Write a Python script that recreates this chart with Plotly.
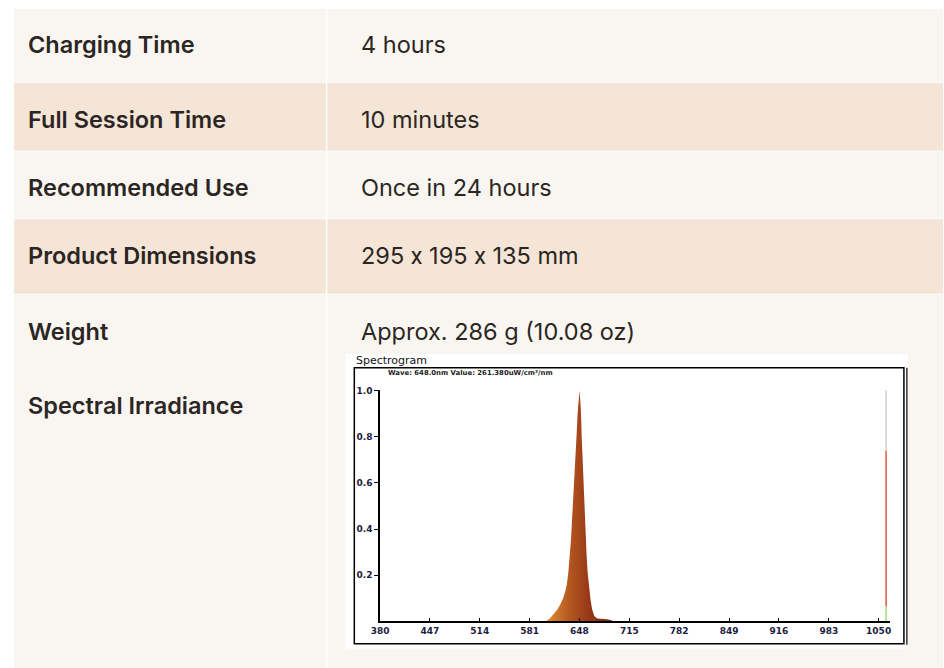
import plotly.graph_objects as go

W, H = 944, 668

# ---------------- data ----------------
spec_labels = ["Charging Time", "Full Session Time", "Recommended Use",
               "Product Dimensions", "Weight", "Spectral Irradiance"]
spec_values = ["4 hours", "10 minutes", "Once in 24 hours",
               "295 <span style='font-family:Roboto'>x</span> 195 <span style='font-family:Roboto'>x</span> 135 mm",
               "Approx. 286 g (10.08 oz)", ""]

chart_title = "Spectrogram"
chart_subtitle = "Wave: 648.0nm Value: 261.380uW/cm²/nm"

wavelength_nm = [603, 608, 613, 618, 622, 626, 629, 631, 633, 635, 636.5, 638,
                 639.5, 641, 642.5, 644, 645.5, 647, 648, 649, 650, 651, 652,
                 653, 654.5, 656, 657.5, 659, 661, 663, 665, 668, 672, 676,
                 680, 685, 690, 694]
relative_irradiance = [0.0, 0.012, 0.03, 0.05, 0.072, 0.10, 0.13, 0.16, 0.21,
                       0.28, 0.35, 0.44, 0.52, 0.60, 0.70, 0.80, 0.90, 0.97,
                       1.0, 0.96, 0.91, 0.80, 0.71, 0.63, 0.51, 0.39, 0.29,
                       0.21, 0.14, 0.09, 0.052, 0.022, 0.012, 0.010, 0.010,
                       0.009, 0.006, 0.0]

indicator_wavelength = 1060
indicator_levels = [0.0, 0.065, 0.74, 1.0]
indicator_colors = ["#9be070", "#e0583a", "#cfcfcf"]

x_tick_vals = [380, 447, 514, 581, 648, 715, 782, 849, 916, 983, 1050]
x_tick_text = [str(v) for v in x_tick_vals]
y_tick_vals = [0.2, 0.4, 0.6, 0.8, 1.0]
y_tick_text = ["0.2", "0.4", "0.6", "0.8", "1.0"]

# ---------------- layout constants (pixels) ----------------
row_edges = [5, 79, 148, 216, 292, 668]
row_fills = ["#f9f6f1", "#f5e5d7", "#f9f6f1", "#f5e5d7", "#f9f6f1"]
text_y = [41, 116, 185, 253, 329, 404]
col_split = 321
label_x = 18
value_x = 355


def px(x):
    return x / W


def py(y):
    return 1 - y / H


fig = go.Figure()

# spectral peak with horizontal gradient fill
fig.add_trace(go.Scatter(
    x=wavelength_nm, y=relative_irradiance, mode="lines",
    line=dict(width=0, color="rgba(0,0,0,0)"),
    fill="tozeroy",
    fillgradient=dict(type="horizontal", start=605, stop=672,
                      colorscale=[[0, "#d8892f"], [0.45, "#b0521f"],
                                  [0.75, "#9a3a18"], [1, "#8a2c12"]]),
    hoverinfo="skip", showlegend=False))

# coloured level indicator at the right
for i in range(len(indicator_colors)):
    fig.add_trace(go.Scatter(
        x=[indicator_wavelength, indicator_wavelength],
        y=[indicator_levels[i], indicator_levels[i + 1]],
        mode="lines", line=dict(width=1.5, color=indicator_colors[i]),
        hoverinfo="skip", showlegend=False))

shapes = []
# table row bands
for i, fc in enumerate(row_fills):
    shapes.append(dict(type="rect", xref="paper", yref="paper", layer="below",
                       x0=px(5), x1=px(W), y0=py(row_edges[i]), y1=py(row_edges[i + 1]),
                       fillcolor=fc, line=dict(width=0)))
for e in row_edges[1:-1]:
    shapes.append(dict(type="line", xref="paper", yref="paper", layer="below",
                       x0=px(5), x1=px(W), y0=py(e), y1=py(e),
                       line=dict(color="#fdfbf8", width=1)))
# column divider
shapes.append(dict(type="line", xref="paper", yref="paper", layer="below",
                   x0=px(col_split), x1=px(col_split), y0=py(5), y1=py(H),
                   line=dict(color="#ffffff", width=1.5)))
# chart image box and frame
shapes.append(dict(type="rect", xref="paper", yref="paper", layer="below",
                   x0=px(340), x1=px(908.5), y0=py(352), y1=py(648.5),
                   fillcolor="#ffffff", line=dict(width=0)))
shapes.append(dict(type="rect", xref="paper", yref="paper", layer="below",
                   x0=px(349), x1=px(904.5), y0=py(366), y1=py(643.5),
                   fillcolor="rgba(0,0,0,0)", line=dict(color="#000000", width=1.5)))
shapes.append(dict(type="line", xref="paper", yref="paper", layer="below",
                   x0=px(907.5), x1=px(907.5), y0=py(366), y1=py(644.5),
                   line=dict(color="#000000", width=1.2)))

annotations = []
for lab, val, ty in zip(spec_labels, spec_values, text_y):
    annotations.append(dict(xref="paper", yref="paper", x=px(label_x), y=py(ty),
                            text=lab, showarrow=False, xanchor="left", yanchor="middle",
                            xshift=-1,
                            font=dict(family="Inter", size=23.5, color="#2b2623", weight=600)))
    if val:
        annotations.append(dict(xref="paper", yref="paper", x=px(value_x), y=py(ty),
                                text=val, showarrow=False, xanchor="left", yanchor="middle",
                                xshift=-1,
                                font=dict(family="Inter", size=23.5, color="#2b2623")))

annotations.append(dict(xref="paper", yref="paper", x=px(349), y=py(358.5),
                        text=chart_title, showarrow=False, xanchor="left", yanchor="middle",
                        font=dict(family="DejaVu Sans", size=11, color="#111111")))
annotations.append(dict(xref="paper", yref="paper", x=px(381), y=py(371.5),
                        text=chart_subtitle, showarrow=False, xanchor="left", yanchor="middle",
                        font=dict(family="DejaVu Sans", size=6.9, color="#222222", weight="bold")))

tick_font = dict(family="DejaVu Sans", size=9, color="#1c2040", weight="bold")

fig.update_layout(
    width=W, height=H,
    margin=dict(l=0, r=0, t=0, b=0),
    paper_bgcolor="#ffffff",
    plot_bgcolor="rgba(0,0,0,0)",
    showlegend=False,
    shapes=shapes,
    annotations=annotations,
    xaxis=dict(domain=[px(375), px(890)], range=[380, 1064.7],
               tickmode="array", tickvals=x_tick_vals, ticktext=x_tick_text,
               ticks="inside", ticklen=4, tickwidth=1, tickcolor="#000000",
               showline=True, linecolor="#000000", linewidth=1.5,
               showgrid=False, zeroline=False, tickfont=tick_font,
               fixedrange=True),
    yaxis=dict(domain=[py(621), py(388)], range=[0, 1.004],
               tickmode="array", tickvals=y_tick_vals, ticktext=y_tick_text,
               ticks="outside", ticklen=4, tickwidth=1, tickcolor="#000000",
               showline=True, linecolor="#000000", linewidth=1.5,
               showgrid=False, zeroline=False, tickfont=tick_font,
               fixedrange=True),
)

pin_js = ("document.documentElement.style.margin='0';"
          "document.documentElement.style.padding='0';"
          "document.body.style.margin='0';document.body.style.padding='0';"
          "document.body.style.overflow='hidden';"
          "var gd=document.getElementsByClassName('plotly-graph-div')[0];"
          "gd.style.position='fixed';gd.style.left='0px';gd.style.top='0px';")

fig.write_html("out.html", config={"displayModeBar": False}, post_script=pin_js)
